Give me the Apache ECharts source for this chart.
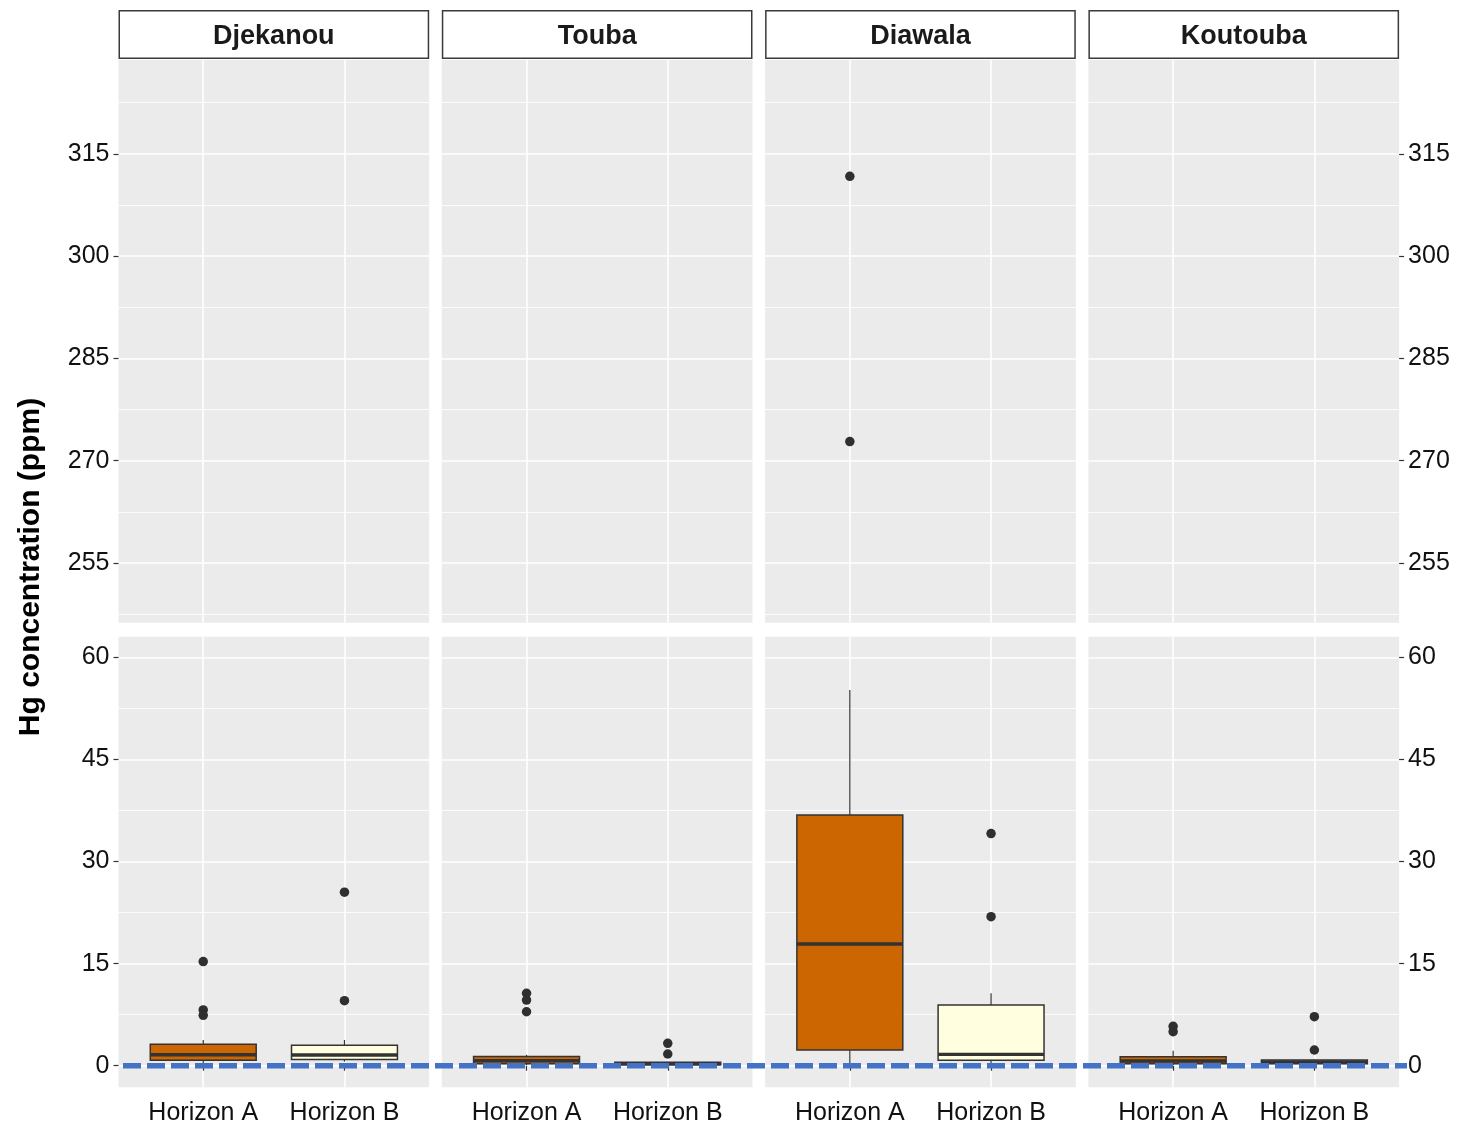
<!DOCTYPE html>
<html>
<head>
<meta charset="utf-8">
<script src="https://cdn.jsdelivr.net/npm/echarts@6/dist/echarts.min.js"></script>
<style>
  html, body { margin: 0; padding: 0; background: #ffffff; }
  #chart { width: 1475px; height: 1125px; }
</style>
</head>
<body>
<div id="chart"></div>
<script>
// ---- data ----------------------------------------------------------------
const sites = ['Djekanou', 'Touba', 'Diawala', 'Koutouba'];
const horizons = ['Horizon A', 'Horizon B'];

// box statistics per site, each as [Horizon A, Horizon B] (ppm)
const whiskerLow    = [[0.35, 0.6],  [0.1, 0.05], [0.35, 0.3],   [0.1, 0.1]];
const lowerQuartile = [[0.8, 0.9],   [0.3, 0.15], [2.31, 0.8],   [0.3, 0.3]];
const median        = [[1.62, 1.57], [0.72, 0.3], [17.88, 1.67], [0.7, 0.55]];
const upperQuartile = [[3.14, 3.0],  [1.35, 0.5], [36.85, 8.92], [1.32, 0.84]];
const whiskerHigh   = [[3.78, 3.78], [1.6, 0.6],  [55.19, 10.64],[2.2, 0.9]];

// outlying samples per site, [Horizon A points, Horizon B points]
const outliers = [
  [[15.3, 8.2, 7.4], [25.5, 9.55]],
  [[10.64, 9.65, 7.93], [3.29, 1.72]],
  [[311.7, 272.8], [34.1, 21.9]],
  [[5.8, 5.0], [7.2, 2.31]]
];

// reference level drawn as the dashed line
const limitLine = 0;

// broken y axis: upper and lower sections
const upperTicks = [255, 270, 285, 300, 315];
const lowerTicks = [0, 15, 30, 45, 60];
const upperRange = [246.25, 328.75];
const lowerRange = [-3.17, 63.03];

// ---- layout & style ------------------------------------------------------
const FONT = '"Liberation Sans", Arial, sans-serif';
const PANEL_LEFT = 118.5, PANEL_W = 310.7, PANEL_GAP = 12.6;
const STRIP_TOP = 10, STRIP_H = 49;
const rows = [
  { top: 60,    height: 562.7, range: upperRange, ticks: upperTicks },
  { top: 636.7, height: 450.6, range: lowerRange, ticks: lowerTicks }
];
const boxFill = ['#CC6600', '#FFFFE0'];
const INK = '#333333';

function minorTicksOf(ticks, range) {
  const step = ticks[1] - ticks[0];
  const out = [];
  for (let i = -1; i < ticks.length; i++) {
    const v = ticks[0] + (i + 0.5) * step;
    if (v > range[0] && v < range[1]) out.push(v);
  }
  return out;
}

function renderBox(params, api) {
  const x = api.value(0);
  const lo = api.coord([x, api.value(1)]);
  const q1 = api.coord([x, api.value(2)]);
  const md = api.coord([x, api.value(3)]);
  const q3 = api.coord([x, api.value(4)]);
  const hi = api.coord([x, api.value(5)]);
  const half = api.size([0.75, 0])[0] / 2;
  const fill = boxFill[api.value(6)];
  return {
    type: 'group',
    children: [
      { type: 'line', shape: { x1: hi[0], y1: hi[1], x2: q3[0], y2: q3[1] },
        style: { stroke: INK, lineWidth: 1.2 } },
      { type: 'line', shape: { x1: q1[0], y1: q1[1], x2: lo[0], y2: lo[1] },
        style: { stroke: INK, lineWidth: 1.2 } },
      { type: 'rect', shape: { x: q3[0] - half, y: q3[1], width: half * 2, height: q1[1] - q3[1] },
        style: { fill: fill, stroke: INK, lineWidth: 1.5 } },
      { type: 'line', shape: { x1: md[0] - half, y1: md[1], x2: md[0] + half, y2: md[1] },
        style: { stroke: INK, lineWidth: 3.4 } }
    ]
  };
}

const grid = [], xAxis = [], yAxis = [], series = [], graphic = [];

rows.forEach((row, r) => {
  const minor = minorTicksOf(row.ticks, row.range);
  sites.forEach((site, s) => {
    const g = r * sites.length + s;
    const left = PANEL_LEFT + s * (PANEL_W + PANEL_GAP);
    grid.push({
      left: left, top: row.top, width: PANEL_W, height: row.height,
      show: true, backgroundColor: '#EBEBEB', borderWidth: 0,
      containLabel: false, outerBoundsMode: 'none'
    });
    const bottomRow = r === rows.length - 1;
    xAxis.push({
      gridIndex: g, type: 'value', min: 0.4, max: 2.6,
      axisLine: { show: false },
      axisTick: { show: bottomRow, customValues: [1, 2], length: 5,
                  lineStyle: { color: INK, width: 1.2 } },
      axisLabel: { show: bottomRow, customValues: [1, 2],
                   formatter: v => horizons[Math.round(v) - 1],
                   fontSize: 25, fontFamily: FONT, color: '#111', margin: 13 },
      splitLine: { show: true, lineStyle: { color: '#ffffff', width: 1.6 } }
    });
    const labelled = s === 0 || s === sites.length - 1;
    yAxis.push({
      gridIndex: g, type: 'value', min: row.range[0], max: row.range[1],
      position: s === sites.length - 1 ? 'right' : 'left',
      axisLine: { show: false },
      axisTick: { show: labelled, customValues: row.ticks, length: 5,
                  lineStyle: { color: INK, width: 1.2 } },
      axisLabel: { show: labelled, customValues: row.ticks,
                   fontSize: 25, fontFamily: FONT, color: '#111', margin: 9,
                   padding: [5, 0, 0, 0] },
      splitLine: { show: true, lineStyle: { color: '#ffffff', width: 1.6 } }
    });
    yAxis.push({
      gridIndex: g, type: 'value', min: row.range[0], max: row.range[1],
      position: s === sites.length - 1 ? 'left' : 'right',
      axisLine: { show: false },
      axisTick: { show: false, customValues: minor },
      axisLabel: { show: false, customValues: minor },
      splitLine: { show: true, lineStyle: { color: '#ffffff', width: 0.8 } }
    });

    // boxes that sit inside this section
    const boxes = [];
    horizons.forEach((h, k) => {
      const lo = whiskerLow[s][k], hi = whiskerHigh[s][k];
      if (lo >= row.range[0] && hi <= row.range[1]) {
        boxes.push([k + 1, lo, lowerQuartile[s][k], median[s][k],
                    upperQuartile[s][k], hi, k]);
      }
    });
    if (boxes.length) {
      series.push({
        type: 'custom', xAxisIndex: g, yAxisIndex: g * 2,
        renderItem: renderBox, data: boxes, z: 3, silent: true
      });
    }

    // outlying points inside this section
    const pts = [];
    horizons.forEach((h, k) => {
      outliers[s][k].forEach(v => {
        if (v >= row.range[0] && v <= row.range[1]) pts.push([k + 1, v]);
      });
    });
    if (pts.length) {
      series.push({
        type: 'scatter', xAxisIndex: g, yAxisIndex: g * 2, data: pts,
        symbol: 'circle', symbolSize: 9.5, z: 4, silent: true,
        itemStyle: { color: '#2f2f2f', opacity: 1 }
      });
    }
  });
});

// strip headers
sites.forEach((site, s) => {
  const left = PANEL_LEFT + s * (PANEL_W + PANEL_GAP);
  graphic.push({
    type: 'rect', silent: true,
    shape: { x: left + 0.75, y: STRIP_TOP + 0.75, width: PANEL_W - 1.5, height: STRIP_H - 1.5 },
    style: { fill: '#ffffff', stroke: '#3a3a3a', lineWidth: 1.5 }
  });
  graphic.push({
    type: 'text', silent: true,
    x: left + PANEL_W / 2, y: STRIP_TOP + STRIP_H / 2 + 2.5,
    style: { text: site, font: 'bold 27px ' + FONT, fill: '#1a1a1a',
             align: 'center', verticalAlign: 'middle',
             textAlign: 'center', textVerticalAlign: 'middle' }
  });
});

// y-axis title
graphic.push({
  type: 'text', silent: true, x: 31, y: 567, rotation: Math.PI / 2,
  style: { text: 'Hg concentration (ppm)', font: 'bold 30px ' + FONT, fill: '#000',
           align: 'center', verticalAlign: 'middle',
           textAlign: 'center', textVerticalAlign: 'middle' }
});

// dashed reference line across the lower section of all panels
const lineGrid = grid.length;
const lowerRow = rows[rows.length - 1];
grid.push({ left: 123, top: lowerRow.top, width: 1284, height: lowerRow.height,
            show: false, containLabel: false, outerBoundsMode: 'none' });
xAxis.push({ gridIndex: lineGrid, type: 'value', min: 0, max: 1, show: false });
yAxis.push({ gridIndex: lineGrid, type: 'value', min: lowerRange[0], max: lowerRange[1], show: false });
series.push({
  type: 'line', xAxisIndex: xAxis.length - 1, yAxisIndex: yAxis.length - 1,
  data: [[0, limitLine], [1, limitLine]], symbol: 'none', z: 10, silent: true,
  lineStyle: { color: '#4472C4', width: 5.5, type: [18, 6] }
});

const chart = echarts.init(document.getElementById('chart'), null, { renderer: 'canvas' });
chart.setOption({
  backgroundColor: '#ffffff',
  animation: false,
  grid: grid, xAxis: xAxis, yAxis: yAxis, series: series, graphic: graphic
});
</script>
</body>
</html>
